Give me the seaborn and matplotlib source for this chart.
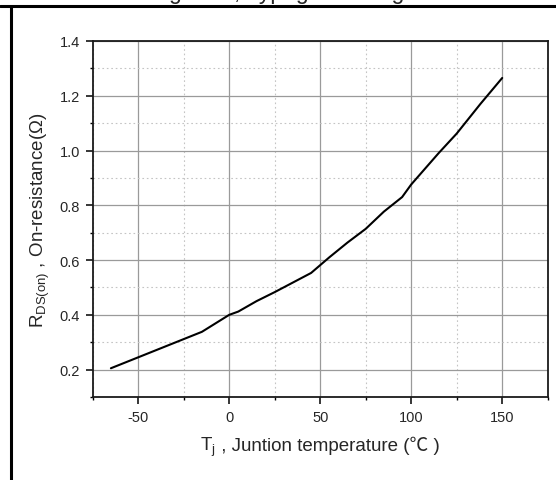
import matplotlib
matplotlib.use("Agg")
import matplotlib.pyplot as plt
from matplotlib.ticker import MultipleLocator
from matplotlib.lines import Line2D
import seaborn as sns
import pandas as pd

# Junction temperature (°C) and on-resistance (Ohm)
tj = [-65, -15, 0, 5, 15, 25, 45, 55, 65, 75, 85, 95, 100, 115, 125, 138, 150]
rds_on = [0.205, 0.338, 0.400, 0.412, 0.450, 0.483, 0.553, 0.610, 0.664,
          0.714, 0.777, 0.830, 0.876, 0.990, 1.062, 1.170, 1.265]

x_ticks = [-50, 0, 50, 100, 150]
y_ticks = [0.2, 0.4, 0.6, 0.8, 1.0, 1.2, 1.4]

df = pd.DataFrame({"Tj": tj, "Rds": rds_on})

sns.set_style("white")
plt.rcParams["font.family"] = ["Liberation Sans", "DejaVu Sans"]
plt.rcParams["mathtext.default"] = "regular"

W, H = 556, 481
fig = plt.figure(figsize=(W / 100, H / 100), dpi=100)
ax = fig.add_axes([92.7 / W, 1 - 398 / H, (547.7 - 92.7) / W, (398 - 42) / H])

sns.lineplot(data=df, x="Tj", y="Rds", ax=ax, color="black", linewidth=1.5,
             sort=False, zorder=5)

ax.set_xlim(-75, 175)
ax.set_ylim(0.1, 1.4)
ax.set_xticks(x_ticks)
ax.set_xticklabels([f"{v:d}" for v in x_ticks])
ax.set_yticks(y_ticks)
ax.set_yticklabels([f"{v:.1f}" for v in y_ticks])
ax.xaxis.set_minor_locator(MultipleLocator(25))
ax.yaxis.set_minor_locator(MultipleLocator(0.1))

ax.grid(which="major", color="#9a9a9a", linewidth=0.9, linestyle="-")
ax.grid(which="minor", color="#c4c4c4", linewidth=0.8, linestyle=(0, (1.5, 2.5)))
ax.set_axisbelow(True)

for side in ["left", "bottom", "top", "right"]:
    ax.spines[side].set_visible(True)
    ax.spines[side].set_color("#1a1a1a")
    ax.spines[side].set_linewidth(1.3)

ax.tick_params(which="major", direction="out", length=5, width=1.1,
               color="black", labelsize=10.5, bottom=True, left=True,
               top=False, right=False, pad=4)
ax.tick_params(which="minor", direction="out", length=2.5, width=1.0,
               color="black", bottom=True, left=True, top=False, right=False)

ax.set_xlabel("")
ax.set_ylabel(r"R$_{DS(on)}$ , On-resistance(Ω)", fontsize=13.5)
ax.yaxis.set_label_coords(-0.089, 0.5)

# x-axis title: symbol with subscript, then plain text with the degree sign
x_split = 216 / W
y_base = 1 - 451.5 / H
fig.text(x_split, y_base, r"T$_{j}$", ha="right", va="baseline", fontsize=13.5)
fig.text(x_split, y_base, " , Juntion temperature (℃ )", ha="left",
         va="baseline", fontsize=13.5,
         family=["Liberation Sans", "Noto Sans CJK SC", "DejaVu Sans"])

# page frame and caption of the preceding figure
fig.add_artist(Line2D([0, 1], [1 - 7 / H, 1 - 7 / H], transform=fig.transFigure,
                      color="black", linewidth=2.2))
fig.add_artist(Line2D([10.7 / W, 10.7 / W], [0, 1 - 7 / H], transform=fig.transFigure,
                      color="black", linewidth=2.2))
fig.text(0.51, 1 + 1.0 / H, "Figure 9, Typ. gate charge", ha="center",
         va="baseline", fontsize=16.5)

fig.savefig("out.png", dpi=100)
